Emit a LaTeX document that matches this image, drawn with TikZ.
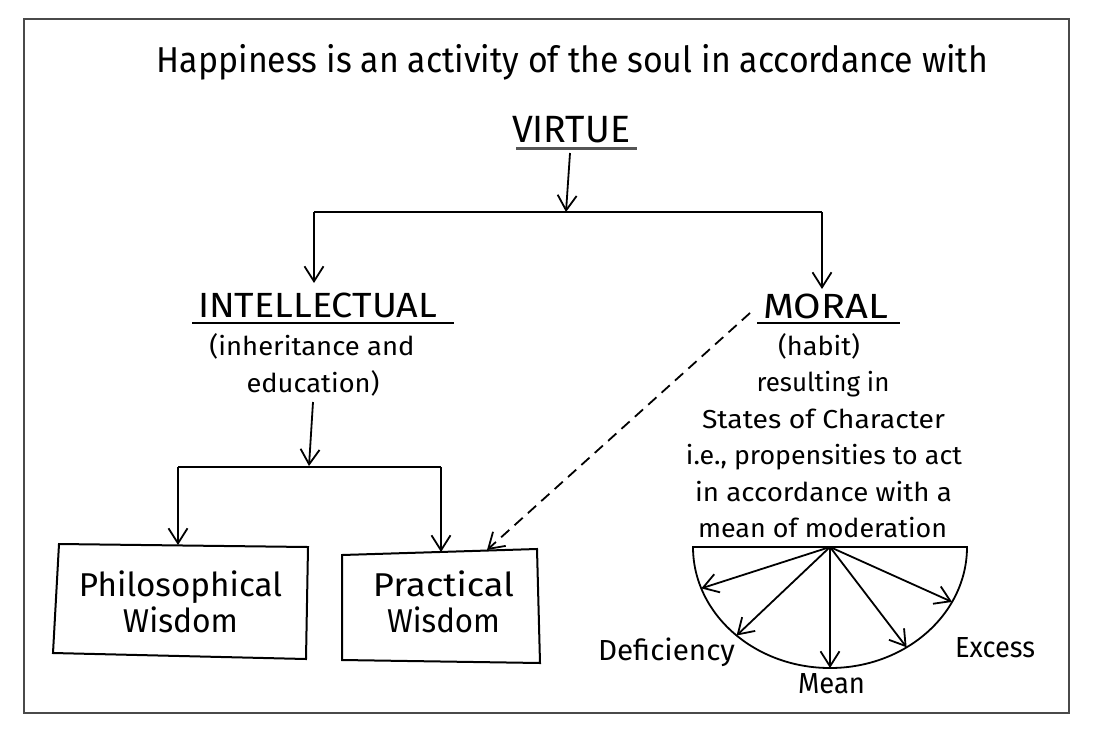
\documentclass[tikz,border=0pt]{standalone}
\usepackage{fontspec}
\setmainfont{Fira Sans}
\usetikzlibrary{arrows.meta,calc}
\newcommand{\sq}[2]{\resizebox{#1pt}{\height}{#2}}
\definecolor{framegray}{HTML}{4A4A4A}
\definecolor{ulgray}{HTML}{555555}
\begin{document}
\begin{tikzpicture}[x=1pt,y=1pt,
  lbl/.style={anchor=base, inner sep=0pt, outer sep=0pt},
  titlef/.style={font=\fontsize{36}{40}\selectfont},
  headf/.style={font=\fontsize{35}{40}\selectfont},
  bodyf/.style={font=\fontsize{26}{30}\selectfont},
  boxf/.style={font=\fontsize{33}{36}\selectfont},
  endf/.style={font=\fontsize{29}{32}\selectfont},
  ln/.style={line width=1.8pt},
  arr/.style={line width=1.8pt, -{Straight Barb[length=15pt,width=19pt]}},
  darr/.style={arr, dash pattern=on 11pt off 7pt},
  ul/.style={line width=1.8pt},
  boxln/.style={line width=2pt, line join=miter}]
\useasboundingbox (0,0) rectangle (1108,-742);
\fill[white] (0,0) rectangle (1108,-742);
\draw[framegray, line width=2pt] (24,-19) rectangle (1069,-713);

% title
\node[lbl, titlef] (title) at (572.5,-72) {\sq{831}{Happiness is an activity of the soul in accordance with}};

% VIRTUE
\node[lbl, font=\fontsize{38}{40}\selectfont] (virtue) at (571,-142) {\sq{118}{VIRTUE}};
\draw[ulgray, line width=3pt] (516,-148) -- (637,-148);
\coordinate (v1) at (570,-153);
\coordinate (v2) at (566,-212);
\draw[arr] (v1) -- (v2);
\coordinate (bl) at (314,-212);
\coordinate (br) at (822,-212);
\coordinate (intTop) at (314,-283);
\coordinate (morTop) at (822,-289);
\draw[ln] (bl) -- (br);
\draw[arr] (bl) -- (intTop);
\draw[arr] (br) -- (morTop);

% INTELLECTUAL
\node[lbl, headf] (intel) at (317.5,-317) {\sq{239}{INTELLECTUAL}};
\draw[ul] (192,-323) -- (454,-323);
\node[lbl, bodyf] (inh1) at (312,-355) {\sq{205}{(inheritance and}};
\node[lbl, bodyf] (inh2) at (313,-392) {\sq{133}{education)}};
\coordinate (i1) at (313,-402);
\coordinate (i2) at (309,-466);
\draw[arr] (i1) -- (i2);
\coordinate (sl) at (178,-467);
\coordinate (sr) at (441,-467);
\draw[ln] (sl) -- (sr);

% boxes
\coordinate (pA) at (59,-544);
\coordinate (pB) at (308,-547);
\coordinate (pC) at (306,-659);
\coordinate (pD) at (53,-653);
\draw[boxln] (pA) -- (pB) -- (pC) -- (pD) -- cycle;
\coordinate (qA) at (342,-555);
\coordinate (qB) at (537,-549);
\coordinate (qC) at (540,-663);
\coordinate (qD) at (342,-660);
\draw[boxln] (qA) -- (qB) -- (qC) -- (qD) -- cycle;
\coordinate (phTop) at (178,-545);
\coordinate (prTop) at (441,-552);
\coordinate (prDash) at (487,-550);
\draw[arr] (sl) -- (phTop);
\draw[arr] (sr) -- (prTop);
\node[lbl, boxf] (ph1) at (180.5,-596) {\sq{203}{Philosophical}};
\node[lbl, boxf] (ph2) at (180.5,-632) {\sq{115}{Wisdom}};
\node[lbl, boxf] (pr1) at (443.5,-596) {\sq{141}{Practical}};
\node[lbl, boxf] (pr2) at (443.5,-632) {\sq{113}{Wisdom}};

% MORAL
\node[lbl, headf] (moral) at (825.5,-318) {\sq{125}{MORAL}};
\draw[ul] (757,-323) -- (900,-323);
\coordinate (mDash) at (750,-313);
\draw[darr] (mDash) -- (prDash);
\node[lbl, bodyf] (m1) at (819,-355) {\sq{82}{(habit)}};
\node[lbl, bodyf] (m2) at (823,-391.5) {\sq{133}{resulting in}};
\node[lbl, bodyf] (m3) at (823.5,-428) {\sq{243}{States of Character}};
\node[lbl, bodyf] (m4) at (824,-464.5) {\sq{276}{i.e., propensities to act}};
\node[lbl, bodyf] (m5) at (823.5,-501) {\sq{257}{in accordance with a}};
\node[lbl, bodyf] (m6) at (822.5,-537.5) {\sq{249}{mean of moderation}};

% half ellipse
\coordinate (c) at (830,-547);
\draw[ln, line join=miter] (693,-547) -- (967,-547) arc[start angle=0,end angle=-180,x radius=137,y radius=121] -- cycle;
\coordinate (e1) at ($(c)+(200:137 and 121)$);
\coordinate (e2) at ($(c)+(227:137 and 121)$);
\coordinate (e3) at ($(c)+(270:137 and 121)$);
\coordinate (e4) at ($(c)+(304:137 and 121)$);
\coordinate (e5) at ($(c)+(333:137 and 121)$);
\foreach \e in {e1,e2,e3,e4,e5} \draw[arr] (c) -- (\e);
\node[lbl, endf] (def) at (666.5,-660) {\sq{137}{Deficiency}};
\node[lbl, endf] (mean) at (831.5,-693) {\sq{67}{Mean}};
\node[lbl, endf] (exc) at (995,-657) {\sq{80}{Excess}};
\end{tikzpicture}
\end{document}
